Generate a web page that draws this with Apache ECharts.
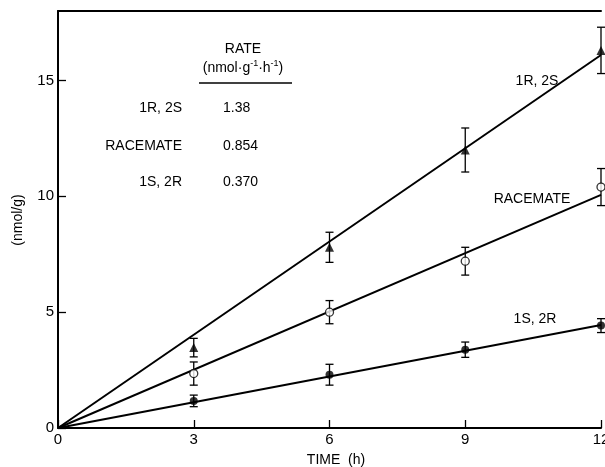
<!DOCTYPE html>
<html><head><meta charset="utf-8">
<script src="https://cdn.jsdelivr.net/npm/echarts@6/dist/echarts.min.js"></script>
<style>html,body{margin:0;padding:0;background:#fff}#c{width:605px;height:467px}</style>
</head><body><div id="c"></div>
<script>
// Data
const times = [3, 6, 9, 12];
const r1s2 = [3.47, 7.8, 12.0, 16.3];
const r1s2Err = [0.4, 0.65, 0.95, 1.0];
const racemate = [2.35, 5.0, 7.2, 10.4];
const racemateErr = [0.5, 0.5, 0.6, 0.8];
const s1r2 = [1.17, 2.3, 3.38, 4.42];
const s1r2Err = [0.25, 0.45, 0.33, 0.3];
const fitX = [0, 12];
const fit1R2S = [0, 16.1];
const fitRacemate = [0, 10.06];
const fit1S2R = [0, 4.45];
const xTicks = [0, 3, 6, 9, 12];
const yTicks = [0, 5, 10, 15];
const rateNames = ['1R, 2S', 'RACEMATE', '1S, 2R'];
const rateValues = ['1.38', '0.854', '0.370'];

const FONT = '"Liberation Sans", Arial, sans-serif';
const pts = (ys) => times.map((t, i) => [t, ys[i]]);
const errs = (ys, es) => times.map((t, i) => [t, ys[i] - es[i], ys[i] + es[i]]);
const fit = (ys) => fitX.map((x, i) => [x, ys[i]]);

function errRender(params, api) {
  const x = api.value(0);
  const lo = api.coord([x, api.value(1)]);
  const hi = api.coord([x, api.value(2)]);
  const w = 4;
  const style = { stroke: '#000', lineWidth: 1.3 };
  return { type: 'group', children: [
    { type: 'line', shape: { x1: lo[0], y1: lo[1], x2: hi[0], y2: hi[1] }, style },
    { type: 'line', shape: { x1: lo[0] - w, y1: lo[1], x2: lo[0] + w, y2: lo[1] }, style },
    { type: 'line', shape: { x1: hi[0] - w, y1: hi[1], x2: hi[0] + w, y2: hi[1] }, style }
  ]};
}

const chart = echarts.init(document.getElementById('c'));
const txt = (x, y, text, align) => ({ type: 'text', x, y,
  style: { text, font: '14px ' + FONT, fill: '#000', align: align || 'center', verticalAlign: 'middle' } });

const graphics = [
  txt(243, 49, 'RATE'),
  { type: 'text', x: 243, y: 68, style: { rich: {
      n: { font: '14px ' + FONT, fill: '#000' },
      s: { font: '9px ' + FONT, fill: '#000', verticalAlign: 'top', padding: [0, 0, 8, 0] } },
      text: '{n|(nmol·g}{s|-1}{n|·h}{s|-1}{n|)}', align: 'center', verticalAlign: 'middle' } },
  { type: 'line', shape: { x1: 199, y1: 83, x2: 292, y2: 83 }, style: { stroke: '#000', lineWidth: 1.5 } },
  txt(537, 81, '1R, 2S'),
  txt(532, 199, 'RACEMATE'),
  txt(535, 319, '1S, 2R'),
  { type: 'text', x: 18, y: 220, rotation: Math.PI / 2,
    style: { text: '(nmol/g)', font: '14px ' + FONT, fill: '#000', align: 'center', verticalAlign: 'middle' } },
  txt(336, 460, 'TIME  (h)')
];
const rowY = [108, 146, 182];
rateNames.forEach((n, i) => {
  graphics.push(txt(182, rowY[i], n, 'right'));
  graphics.push(txt(223, rowY[i], rateValues[i], 'left'));
});

chart.setOption({
  animation: false,
  grid: { left: 58, right: 4, top: 11, bottom: 39, containLabel: false, outerBoundsMode: 'none' },
  xAxis: [{
    type: 'value', min: 0, max: 12, interval: 3,
    axisLine: { lineStyle: { color: '#000', width: 2 } },
    axisTick: { inside: true, length: 8, lineStyle: { color: '#000', width: 1.3 } },
    axisLabel: { color: '#000', fontSize: 15, fontFamily: FONT, margin: 4,
      customValues: xTicks, hideOverlap: false },
    splitLine: { show: false }
  }, {
    type: 'value', position: 'top', min: 0, max: 12,
    axisLine: { show: true, lineStyle: { color: '#000', width: 2 } },
    axisTick: { show: false }, axisLabel: { show: false }, splitLine: { show: false }
  }],
  yAxis: {
    type: 'value', min: 0, max: 18, interval: 5,
    axisLine: { show: true, lineStyle: { color: '#000', width: 2 } },
    axisTick: { inside: true, length: 8, lineStyle: { color: '#000', width: 1.3 }, customValues: yTicks },
    axisLabel: { color: '#000', fontSize: 15, fontFamily: FONT, margin: 4, customValues: yTicks },
    splitLine: { show: false }
  },
  graphic: graphics,
  series: [
    { type: 'line', data: fit(fit1R2S), symbol: 'none', lineStyle: { color: '#000', width: 2 }, z: 2 },
    { type: 'line', data: fit(fitRacemate), symbol: 'none', lineStyle: { color: '#000', width: 2 }, z: 2 },
    { type: 'line', data: fit(fit1S2R), symbol: 'none', lineStyle: { color: '#000', width: 2 }, z: 2 },
    { type: 'custom', data: errs(r1s2, r1s2Err), renderItem: errRender, z: 3 },
    { type: 'custom', data: errs(racemate, racemateErr), renderItem: errRender, z: 3 },
    { type: 'custom', data: errs(s1r2, s1r2Err), renderItem: errRender, z: 3 },
    { type: 'scatter', data: pts(r1s2), symbol: 'triangle', symbolSize: 9, itemStyle: { color: '#000' }, z: 4 },
    { type: 'scatter', data: pts(racemate), symbol: 'circle', symbolSize: 8,
      itemStyle: { color: '#fff', borderColor: '#000', borderWidth: 1.3 }, z: 4 },
    { type: 'scatter', data: pts(s1r2), symbol: 'circle', symbolSize: 8, itemStyle: { color: '#000' }, z: 4 }
  ]
});
</script></body></html>
